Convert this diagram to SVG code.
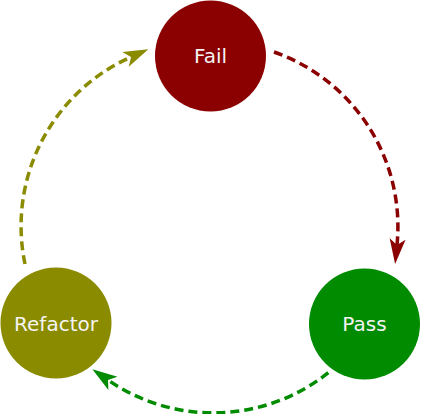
<svg xmlns="http://www.w3.org/2000/svg" width="421" height="414" viewBox="0 0 421 414">
<style>
.node text{font-family:"DejaVu Sans",Verdana,sans-serif;font-size:20px;fill:#f4f4f4;text-anchor:middle}
.edge{fill:none;stroke-width:3.5;stroke-dasharray:9,5}
</style>
<defs>
<marker id="arR" markerUnits="userSpaceOnUse" markerWidth="30" markerHeight="20" refX="6" refY="0" orient="auto" overflow="visible"><path d="M0,-8 L25,0 L0,8 L6,0 Z" fill="#8b0000"/></marker>
<marker id="arG" markerUnits="userSpaceOnUse" markerWidth="30" markerHeight="20" refX="6" refY="0" orient="auto" overflow="visible"><path d="M0,-8 L25,0 L0,8 L6,0 Z" fill="#008b00"/></marker>
<marker id="arO" markerUnits="userSpaceOnUse" markerWidth="30" markerHeight="20" refX="6" refY="0" orient="auto" overflow="visible"><path d="M0,-8 L25,0 L0,8 L6,0 Z" fill="#8b8b00"/></marker>
</defs>
<g id="connectors">
<path class="edge" stroke="#8b0000" d="M274,52 A185,185 0 0 1 397,245" marker-end="url(#arR)"/>
<path class="edge" stroke="#008b00" d="M328.3,372.7 A185,185 0 0 1 108,380" marker-end="url(#arG)"/>
<path class="edge" stroke="#8b8b00" d="M25,264 A185,185 0 0 1 131,57" marker-end="url(#arO)"/>
</g>
<g id="fail" class="node"><circle cx="210.5" cy="56" r="55.5" fill="#8b0000"/><text x="210.5" y="63.3">Fail</text></g>
<g id="pass" class="node"><circle cx="364.5" cy="324" r="55.5" fill="#008b00"/><text x="364.5" y="331">Pass</text></g>
<g id="refactor" class="node"><circle cx="56" cy="323" r="55.5" fill="#8b8b00"/><text x="56" y="331">Refactor</text></g>
</svg>
